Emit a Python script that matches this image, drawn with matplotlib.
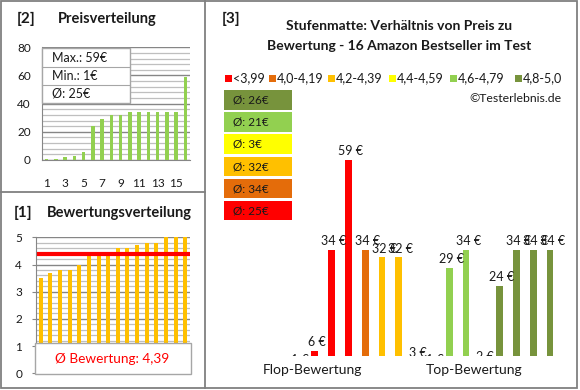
import matplotlib
matplotlib.use("Agg")
import matplotlib.pyplot as plt
from matplotlib.patches import Rectangle

plt.rcParams["font.family"] = ["Lato", "DejaVu Sans"]

W, H = 580, 390

# prices of the 16 products, sorted ascending (panel [2])
prices_sorted = [1, 1, 2, 3, 6, 24, 29, 32, 32, 34, 34, 34, 34, 34, 34, 59]
price_ticks = ["1", "3", "5", "7", "9", "11", "13", "15"]

# ratings sorted ascending (panel [1]) and the price of each of those products (panel [3])
ratings = [3.5, 3.7, 3.8, 3.8, 4.0, 4.3, 4.3, 4.4, 4.6, 4.6, 4.7, 4.8, 4.8, 5.0, 5.0, 5.0]
prices_by_rating = [1, 6, 34, 59, 34, 32, 32, 3, 1, 29, 34, 2, 24, 34, 34, 34]

band_labels = ["<3,99", "4,0-4,19", "4,2-4,39", "4,4-4,59", "4,6-4,79", "4,8-5,0"]
band_lower = [0.0, 4.0, 4.2, 4.4, 4.6, 4.8]
band_colors = ["#FF0000", "#E46C0A", "#FFC000", "#FFFF00", "#92D050", "#77933C"]
group_labels = ["Flop-Bewertung", "Top-Bewertung"]

GRID_MAJ = "#868686"
GRID_MIN = "#BFBFBF"
BORDER = "#808080"
TXT = "#1a1a1a"


def band_of(r):
    idx = 0
    for i, lo in enumerate(band_lower):
        if r >= lo:
            idx = i
    return idx


def px_axes(fig, x0, y0, x1, y1, **kw):
    return fig.add_axes([x0 / W, 1 - y1 / H, (x1 - x0) / W, (y1 - y0) / H], **kw)


fig = plt.figure(figsize=(W / 100, H / 100), dpi=100)
fig.patch.set_facecolor("white")

# ---------- [2] Preisverteilung ----------
ax2 = px_axes(fig, 42, 47.3, 190, 160)
x = list(range(len(prices_sorted)))
ax2.bar(x, prices_sorted, width=0.38, color="#92D050", zorder=3)
ax2.set_xlim(-0.5, 15.5)
ax2.set_ylim(0, 80)
ax2.set_yticks(range(0, 81, 20))
ax2.set_yticks(range(0, 81, 4), minor=True)
ax2.set_xticks(range(0, 16, 2))
ax2.set_xticklabels(price_ticks)
ax2.grid(which="minor", axis="y", color=GRID_MIN, lw=0.9, zorder=0)
ax2.grid(which="major", axis="y", color=GRID_MAJ, lw=1.0, zorder=1)
ax2.tick_params(axis="both", which="both", length=0, labelsize=8.5, colors=TXT)
ax2.tick_params(axis="y", pad=8)
ax2.tick_params(axis="x", pad=13)
for s in ["top", "right"]:
    ax2.spines[s].set_visible(False)
ax2.spines["left"].set_color(GRID_MAJ)
ax2.spines["bottom"].set_color(GRID_MAJ)
ax2.set_axisbelow(True)

# ---------- [1] Bewertungsverteilung ----------
ax1 = px_axes(fig, 36, 237.3, 190, 373.3)
ax1.bar(range(len(ratings)), ratings, width=0.42, color="#FFC000", zorder=3)
mean_rating = sum(ratings) / len(ratings)
ax1.axhline(mean_rating, xmin=0.02, xmax=0.985, color="#FF0000", lw=3, zorder=4)
ax1.set_xlim(-0.5, 15.5)
ax1.set_ylim(0, 5)
ax1.set_yticks(range(0, 6))
ax1.set_yticks([i * 0.2 for i in range(26)], minor=True)
ax1.set_xticks([])
ax1.grid(which="minor", axis="y", color=GRID_MIN, lw=0.9, zorder=0)
ax1.grid(which="major", axis="y", color=GRID_MAJ, lw=1.0, zorder=1)
ax1.tick_params(axis="y", which="major", length=3, color=GRID_MAJ, labelsize=8.5, pad=7, colors=TXT)
ax1.tick_params(axis="y", which="minor", length=0)
for s in ["top", "right"]:
    ax1.spines[s].set_visible(False)
ax1.spines["left"].set_color(GRID_MAJ)
ax1.spines["bottom"].set_color(GRID_MAJ)
ax1.set_axisbelow(True)

# ---------- [3] Preis vs Bewertung ----------
ax3 = px_axes(fig, 215, 140, 570, 356)
slot = 16.8
first = 298
ax3.set_xlim(-(first - 215) / slot, (570 - first) / slot)
ymin = 4.6
ax3.set_ylim(ymin, ymin + (356 - 140) / 3.6)
cols = [band_colors[band_of(r)] for r in ratings]
ax3.bar(range(len(prices_by_rating)), prices_by_rating, width=0.4, color=cols, zorder=3)
for i, v in enumerate(prices_by_rating):
    ax3.annotate(f"{v} €", (i, v), xytext=(1.5, 2), textcoords="offset points",
                 ha="center", va="bottom", fontsize=9, color=TXT,
                 annotation_clip=False, clip_on=True)
ax3.axis("off")

# ---------- overlay: frames, titles, boxes ----------
ov = fig.add_axes([0, 0, 1, 1], zorder=10)
ov.set_xlim(0, W)
ov.set_ylim(H, 0)
ov.axis("off")
ov.patch.set_alpha(0)

ov.add_patch(Rectangle((1, 1), 576, 387, fill=False, ec=BORDER, lw=1.3))
ov.plot([205, 205], [1, 388], color=BORDER, lw=1.3)
ov.plot([1, 205], [191.5, 191.5], color=BORDER, lw=1.3)

ov.text(17, 19, "[2]", fontsize=11, fontweight="bold", va="center", color=TXT)
ov.text(58, 19.5, "Preisverteilung", fontsize=10.5, fontweight="bold", va="center", color=TXT)
ov.text(14, 212.5, "[1]", fontsize=11, fontweight="bold", va="center", color=TXT)
ov.text(47, 213, "Bewertungsverteilung", fontsize=10.5, fontweight="bold", va="center", color=TXT)
ov.text(222, 19, "[3]", fontsize=11, fontweight="bold", va="center", color=TXT)
ov.text(399, 26, "Stufenmatte: Verhältnis von Preis zu", fontsize=10, fontweight="bold",
        ha="center", va="center", color=TXT)
ov.text(399, 46, "Bewertung - 16 Amazon Bestseller im Test", fontsize=10, fontweight="bold",
        ha="center", va="center", color=TXT)

# price info box
pmax, pmin = max(prices_sorted), min(prices_sorted)
pavg = round(sum(prices_sorted) / len(prices_sorted))
ov.add_patch(Rectangle((42, 48), 88, 55, fc="white", ec="#A6A6A6", lw=1))
ov.plot([42, 130], [66.5, 66.5], color="#A6A6A6", lw=0.8)
ov.plot([42, 130], [85, 85], color="#A6A6A6", lw=0.8)
for yy, t in zip([57.5, 76, 94], [f"Max.: {pmax}€", f"Min.: {pmin}€", f"Ø: {pavg}€"]):
    ov.text(52.5, yy, t, fontsize=9, va="center", color=TXT)

# rating info box
ov.add_patch(Rectangle((35, 343), 156, 31, fc="white", ec="#A6A6A6", lw=1))
ov.text(112, 359, "Ø Bewertung: " + f"{mean_rating:.2f}".replace(".", ","),
        fontsize=9.8, color="#FF0000", ha="center", va="center")

# legend
leg_x = [225, 269, 328, 389, 450, 515]
for lx, lab, c in zip(leg_x, band_labels, band_colors):
    ov.add_patch(Rectangle((lx, 75), 6.5, 6.5, fc=c, ec="none"))
    ov.text(lx + 8, 78.5, lab, fontsize=9, va="center", color=TXT)
ov.text(562, 98, "©Testerlebnis.de", fontsize=8.8, ha="right", va="center", color=TXT)

# average price per rating band, top = best band
band_avgs = []
for b in range(len(band_lower)):
    vals = [p for p, r in zip(prices_by_rating, ratings) if band_of(r) == b]
    band_avgs.append(round(sum(vals) / len(vals)))
box_y = 90
for b in reversed(range(len(band_lower))):
    ov.add_patch(Rectangle((224, box_y), 68, 19.5, fc=band_colors[b], ec="none"))
    ov.text(233, box_y + 10, f"Ø: {band_avgs[b]}€", fontsize=8.5, va="center", color=TXT)
    box_y += 22.2

ov.text(312, 370, group_labels[0], fontsize=10, ha="center", va="center", color=TXT)
ov.text(474, 370, group_labels[1], fontsize=10, ha="center", va="center", color=TXT)

fig.savefig("out.png", dpi=100)
